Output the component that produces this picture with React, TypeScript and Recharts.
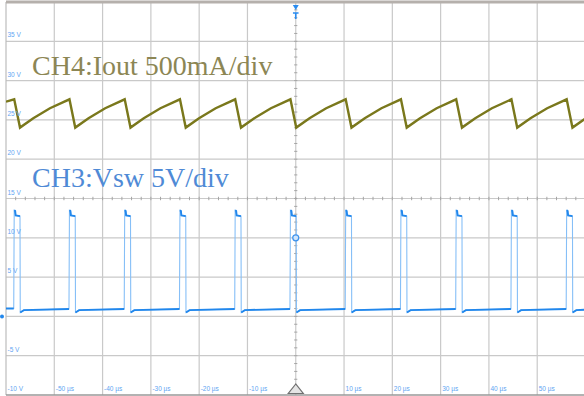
import React from 'react';
import { LineChart, Line, XAxis, YAxis, ReferenceLine, ReferenceDot } from 'recharts';

// Scope screen: 12 horizontal divisions of 10 µs, 10 vertical divisions of 5 V
const timeDomain: [number, number] = [-60, 60];
const voltDomain: [number, number] = [-10, 40];

const timeGrid = [-50, -40, -30, -20, -10, 0, 10, 20, 30, 40, 50];
const voltGrid = [-5, 0, 5, 10, 15, 20, 25, 30, 35];

const timeTickValues = [-50, -40, -30, -20, -10, 10, 20, 30, 40, 50];
const timeTickLabels = ['-50 µs', '-40 µs', '-30 µs', '-20 µs', '-10 µs', '10 µs', '20 µs', '30 µs', '40 µs', '50 µs'];
const voltTickValues = [35, 30, 25, 20, 15, 10, 5, -5, -10];
const voltTickLabels = ['35 V', '30 V', '25 V', '20 V', '15 V', '10 V', '5 V', '-5 V', '-10 V'];

// CH3: switch-node voltage (time µs, volts)
const vswPoints: [number, number][] = [
  [-60, 1.0], [-58.4, 1.0],
  [-58.3, 13.5], [-58.1, 13.4], [-58.0, 12.85], [-57.1, 12.75], [-57.05, 0.5], [-56.3, 0.8],
  [-46.96, 0.95],
  [-46.86, 13.5], [-46.66, 13.4], [-46.56, 12.85], [-45.66, 12.75], [-45.61, 0.5], [-44.86, 0.8],
  [-35.52, 0.95],
  [-35.42, 13.5], [-35.22, 13.4], [-35.12, 12.85], [-34.22, 12.75], [-34.17, 0.5], [-33.42, 0.8],
  [-24.08, 0.95],
  [-23.98, 13.5], [-23.78, 13.4], [-23.68, 12.85], [-22.78, 12.75], [-22.73, 0.5], [-21.98, 0.8],
  [-12.64, 0.95],
  [-12.54, 13.5], [-12.34, 13.4], [-12.24, 12.85], [-11.34, 12.75], [-11.29, 0.5], [-10.54, 0.8],
  [-1.2, 0.95],
  [-1.1, 13.5], [-0.9, 13.4], [-0.8, 12.85], [0.1, 12.75], [0.15, 0.5], [0.9, 0.8],
  [10.24, 0.95],
  [10.34, 13.5], [10.54, 13.4], [10.64, 12.85], [11.54, 12.75], [11.59, 0.5], [12.34, 0.8],
  [21.68, 0.95],
  [21.78, 13.5], [21.98, 13.4], [22.08, 12.85], [22.98, 12.75], [23.03, 0.5], [23.78, 0.8],
  [33.12, 0.95],
  [33.22, 13.5], [33.42, 13.4], [33.52, 12.85], [34.42, 12.75], [34.47, 0.5], [35.22, 0.8],
  [44.56, 0.95],
  [44.66, 13.5], [44.86, 13.4], [44.96, 12.85], [45.86, 12.75], [45.91, 0.5], [46.66, 0.8],
  [56.0, 0.95],
  [56.1, 13.5], [56.3, 13.4], [56.4, 12.85], [57.3, 12.75], [57.35, 0.5], [58.1, 0.8],
  [60, 0.85],
];

// CH4: output current ripple, as placed on the screen grid (time µs, grid volts)
const ioutPoints: [number, number][] = [
  [-60, 27.32], [-58.3, 27.62], [-57.1, 24.02], [-54.35, 25.2], [-50.9, 26.48],
  [-46.86, 27.62], [-45.66, 24.02], [-42.91, 25.2], [-39.46, 26.48],
  [-35.42, 27.62], [-34.22, 24.02], [-31.47, 25.2], [-28.02, 26.48],
  [-23.98, 27.62], [-22.78, 24.02], [-20.03, 25.2], [-16.58, 26.48],
  [-12.54, 27.62], [-11.34, 24.02], [-8.59, 25.2], [-5.14, 26.48],
  [-1.1, 27.62], [0.1, 24.02], [2.85, 25.2], [6.3, 26.48],
  [10.34, 27.62], [11.54, 24.02], [14.29, 25.2], [17.74, 26.48],
  [21.78, 27.62], [22.98, 24.02], [25.73, 25.2], [29.18, 26.48],
  [33.22, 27.62], [34.42, 24.02], [37.17, 25.2], [40.62, 26.48],
  [44.66, 27.62], [45.86, 24.02], [48.61, 25.2], [52.06, 26.48],
  [56.1, 27.62], [57.3, 24.02], [60, 25.18],
];

const vswData = vswPoints.map(([t, v]) => ({ t, v }));
const ioutData = ioutPoints.map(([t, v]) => ({ t, v }));

// the flat levels drawn brighter than the fast edges, as on a phosphor display
const vswLevels: { t: number; v: number | null }[] = [];
vswPoints.forEach(([t, v], i) => {
  if (i > 0 && Math.abs(v - vswPoints[i - 1][1]) > 5) {
    vswLevels.push({ t: (t + vswPoints[i - 1][0]) / 2, v: null });
  }
  vswLevels.push({ t, v });
});

// minor tick marks on the two centre graticule lines
const minorTimeTicks: number[] = [];
for (let t = -58; t <= 58; t += 2) minorTimeTicks.push(t);
const minorVoltTicks: number[] = [];
for (let v = -9; v <= 39; v += 1) minorVoltTicks.push(v);

const GRID = '#c9c9c9';
const LABEL = '#62a5f2';
const CH3 = '#2187ec';
const CH3_EDGE = '#86bff7';
const CH4 = '#7a781c';

const smallFont = { fontFamily: '"Liberation Sans", Arial, sans-serif', fontSize: 6.5 };
const serif = '"Liberation Serif", "Times New Roman", serif';

export default function App() {
  return (
    <div style={{ position: 'absolute', left: 0, top: 0, width: 584, height: 396, overflow: 'hidden', background: '#fff' }}>
      <LineChart width={586} height={396} margin={{ top: 2, right: 0.5, bottom: 1, left: 6 }}>
        <XAxis dataKey="t" type="number" domain={timeDomain} allowDataOverflow hide />
        <YAxis type="number" domain={voltDomain} allowDataOverflow hide />

        {timeGrid.map((t) => (
          <ReferenceLine key={`gx${t}`} x={t} stroke={GRID} strokeWidth={1.2} ifOverflow="visible" />
        ))}
        {voltGrid.map((v) => (
          <ReferenceLine key={`gy${v}`} y={v} stroke={GRID} strokeWidth={1.2} ifOverflow="visible" />
        ))}
        <ReferenceLine x={-60} stroke="#bdbdbd" strokeWidth={1.2} ifOverflow="visible" />
        <ReferenceLine y={40} stroke="#b5b0ac" strokeWidth={3} ifOverflow="visible" />
        <ReferenceLine y={-10} stroke="#999" strokeWidth={1.5} ifOverflow="visible" />

        {minorTimeTicks.map((t) => (
          <ReferenceLine key={`mt${t}`} segment={[{ x: t, y: 14.78 }, { x: t, y: 15.22 }]} stroke="#a5a5a5" ifOverflow="visible" />
        ))}
        {minorVoltTicks.map((v) => (
          <ReferenceLine key={`mv${v}`} segment={[{ x: -0.33, y: v }, { x: 0.33, y: v }]} stroke="#a5a5a5" ifOverflow="visible" />
        ))}

        <Line data={ioutData} dataKey="v" type="linear" dot={false} stroke={CH4} strokeWidth={2.4} isAnimationActive={false} />
        <Line data={vswData} dataKey="v" type="linear" dot={false} stroke={CH3_EDGE} strokeWidth={1.1} isAnimationActive={false} />
        <Line data={vswLevels} dataKey="v" type="linear" dot={false} connectNulls={false} stroke={CH3} strokeWidth={1.9} isAnimationActive={false} />

        {voltTickValues.map((v, i) => (
          <ReferenceDot key={`yl${v}`} x={-60} y={v} ifOverflow="visible"
            shape={(p: any) => (
              <text x={p.cx + 1.5} y={p.cy - 4} fill={LABEL} {...smallFont}>{voltTickLabels[i]}</text>
            )} />
        ))}
        {timeTickValues.map((t, i) => (
          <ReferenceDot key={`xl${t}`} x={t} y={-10} ifOverflow="visible"
            shape={(p: any) => (
              <text x={p.cx + 1.5} y={p.cy - 4} fill={LABEL} {...smallFont}>{timeTickLabels[i]}</text>
            )} />
        ))}

        <ReferenceDot x={-54.6} y={30.71} ifOverflow="visible"
          shape={(p: any) => (
            <text x={p.cx} y={p.cy} fill="#8c8654" fontFamily={serif} fontSize={28}>CH4:Iout 500mA/div</text>
          )} />
        <ReferenceDot x={-54.6} y={16.46} ifOverflow="visible"
          shape={(p: any) => (
            <text x={p.cx} y={p.cy} fill="#4f8ad6" fontFamily={serif} fontSize={28}>CH3:Vsw 5V/div</text>
          )} />

        {/* trigger position marker */}
        <ReferenceDot x={0} y={40} ifOverflow="visible"
          shape={(p: any) => (
            <g>
              <polygon points={`${p.cx - 3},${p.cy + 3} ${p.cx + 3},${p.cy + 3} ${p.cx},${p.cy + 8}`} fill="#2a8cf0" />
              <path d={`M${p.cx - 2.8},${p.cy + 11}H${p.cx + 2.8}M${p.cx},${p.cy + 11}V${p.cy + 17}`} stroke="#2a8cf0" strokeWidth={1.6} fill="none" />
            </g>
          )} />
        <ReferenceDot x={0} y={-10} ifOverflow="visible"
          shape={(p: any) => (
            <polygon points={`${p.cx},${p.cy - 11} ${p.cx - 7.5},${p.cy - 1.5} ${p.cx + 7.5},${p.cy - 1.5}`} fill="#e4e4e4" stroke="#707070" strokeWidth={1.2} />
          )} />
        <ReferenceDot x={0} y={10} ifOverflow="visible"
          shape={(p: any) => (
            <circle cx={p.cx} cy={p.cy} r={3} fill="#cfe5fc" stroke="#3b92ee" strokeWidth={1.2} />
          )} />
        {/* CH3 ground reference */}
        <ReferenceDot x={-60} y={0} ifOverflow="visible"
          shape={(p: any) => (
            <circle cx={p.cx - 4} cy={p.cy} r={2} fill={CH3} />
          )} />
      </LineChart>
    </div>
  );
}
